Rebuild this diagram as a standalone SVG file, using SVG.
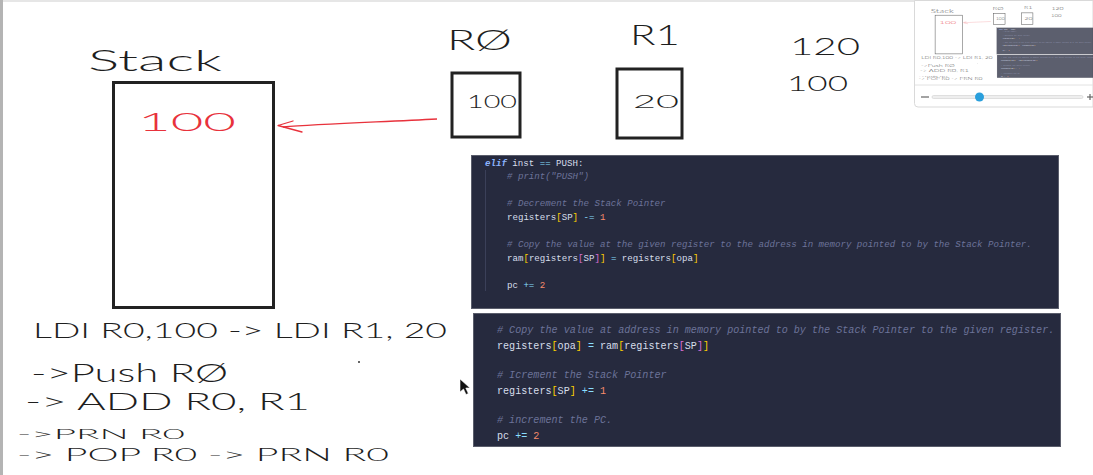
<svg xmlns="http://www.w3.org/2000/svg" xmlns:xlink="http://www.w3.org/1999/xlink" width="1093" height="475" viewBox="0 0 1093 475">
<style>
.hand{font-family:Lato,"Liberation Sans",sans-serif;font-weight:300;fill:#1e1e1e}
.red{fill:#e8323c}
.box{fill:#fff;stroke:#222;stroke-width:3}
.code{fill:#262a3e;stroke:#5a5d6b;stroke-width:1}
.c1{font-family:"Liberation Mono","DejaVu Sans Mono",monospace;font-size:9.12px;fill:#d6deeb}
.c2{font-family:"Liberation Mono","DejaVu Sans Mono",monospace;font-size:10.1px;fill:#d6deeb}
.cm{fill:#6c7399;font-style:italic}
.kw{fill:#8cb4ff;font-style:italic;font-weight:bold}
.op{fill:#89ddff}
.num{fill:#f78c6c}
.yb{fill:#ffd000}
.pb{fill:#da70d6}
</style>
<defs>
<clipPath id="mmclip"><rect x="915" y="1" width="178" height="83"/></clipPath>
</defs>
<rect x="0" y="0" width="1093" height="475" fill="#fff"/>
<line x1="0" y1="1" x2="1093" y2="1" stroke="#e6e6e6" stroke-width="2"/>
<rect x="0" y="0" width="3" height="475" fill="#b4b4b4"/>

<g id="board">
<g id="stack">
<text class="hand" x="88" y="71" font-size="30" textLength="134" lengthAdjust="spacingAndGlyphs">Stack</text>
<rect class="box" x="113.5" y="82.5" width="160" height="225"/>
<text class="hand red" x="138" y="131" font-size="25" textLength="98" lengthAdjust="spacingAndGlyphs">100</text>
</g>
<g id="r0">
<text class="hand" x="447" y="50" font-size="27" textLength="65" lengthAdjust="spacingAndGlyphs">RØ</text>
<rect class="box" x="452" y="73" width="68" height="64"/>
<text class="hand" x="467" y="108" font-size="18" textLength="50" lengthAdjust="spacingAndGlyphs">100</text>
</g>
<g id="r1">
<text class="hand" x="630" y="45" font-size="27" textLength="50" lengthAdjust="spacingAndGlyphs">R1</text>
<rect class="box" x="617" y="69" width="65" height="69"/>
<text class="hand" x="633" y="108" font-size="18" textLength="46" lengthAdjust="spacingAndGlyphs">20</text>
</g>
<g id="sums">
<text class="hand" x="790" y="55" font-size="23" textLength="70" lengthAdjust="spacingAndGlyphs">120</text>
<text class="hand" x="787" y="91" font-size="21" textLength="61" lengthAdjust="spacingAndGlyphs">100</text>
</g>
<g id="connectors">
<path d="M437 119 C 380 122, 320 124, 283 127" fill="none" stroke="#e8323c" stroke-width="1.3"/>
<path d="M293 121 L278 125.5 L302 132" fill="none" stroke="#e8323c" stroke-width="1.3" stroke-linecap="round" stroke-linejoin="round"/>
</g>
<g id="code-push">
<rect class="code" x="471.5" y="155.5" width="587" height="153"/>
<line x1="485.5" y1="170" x2="485.5" y2="291" stroke="#3b4059" stroke-width="1"/>
<text class="c1" x="485" y="166"><tspan class="kw">elif</tspan> inst <tspan class="op">==</tspan> PUSH:</text>
<text class="c1 cm" x="507" y="179"># print("PUSH")</text>
<text class="c1 cm" x="507" y="206"># Decrement the Stack Pointer</text>
<text class="c1" x="507" y="220">registers<tspan class="yb">[</tspan>SP<tspan class="yb">]</tspan> <tspan class="op">-=</tspan> <tspan class="num">1</tspan></text>
<text class="c1 cm" x="507" y="247"># Copy the value at the given register to the address in memory pointed to by the Stack Pointer.</text>
<text class="c1" x="507" y="261">ram<tspan class="yb">[</tspan>registers<tspan class="pb">[</tspan>SP<tspan class="pb">]</tspan><tspan class="yb">]</tspan> <tspan class="op">=</tspan> registers<tspan class="yb">[</tspan>opa<tspan class="yb">]</tspan></text>
<text class="c1" x="507" y="288">pc <tspan class="op">+=</tspan> <tspan class="num">2</tspan></text>
</g>
<g id="code-pop">
<rect class="code" x="473.5" y="313.5" width="587" height="133"/>
<text class="c2 cm" x="497" y="333"># Copy the value at address in memory pointed to by the Stack Pointer to the given register.</text>
<text class="c2" x="497" y="349">registers<tspan class="yb">[</tspan>opa<tspan class="yb">]</tspan> <tspan class="op">=</tspan> ram<tspan class="yb">[</tspan>registers<tspan class="pb">[</tspan>SP<tspan class="pb">]</tspan><tspan class="yb">]</tspan></text>
<text class="c2 cm" x="497" y="378"># Icrement the Stack Pointer</text>
<text class="c2" x="497" y="394">registers<tspan class="yb">[</tspan>SP<tspan class="yb">]</tspan> <tspan class="op">+=</tspan> <tspan class="num">1</tspan></text>
<text class="c2 cm" x="497" y="423"># increment the PC.</text>
<text class="c2" x="497" y="439">pc <tspan class="op">+=</tspan> <tspan class="num">2</tspan></text>
</g>
<g id="program">
<text class="hand" x="33" y="338" font-size="22" textLength="414" lengthAdjust="spacingAndGlyphs">LDI R0,100 -&gt; LDI R1, 20</text>
<circle cx="359" cy="362" r="1" fill="#333"/>
<text class="hand" x="31" y="382" font-size="26" textLength="197" lengthAdjust="spacingAndGlyphs">-&gt;Push RØ</text>
<text class="hand" x="25" y="410" font-size="23" textLength="285" lengthAdjust="spacingAndGlyphs">-&gt; ADD R0, R1</text>
<text class="hand" x="17" y="439" font-size="14" textLength="168" lengthAdjust="spacingAndGlyphs">-&gt;PRN R0</text>
<text class="hand" x="17" y="461" font-size="17" textLength="372" lengthAdjust="spacingAndGlyphs">-&gt; POP R0 -&gt; PRN R0</text>
</g>
</g>

<polygon points="460,379 460,392 463.5,389 466,394.5 468.3,393.5 465.8,388 470,388" fill="#111" stroke="#fff" stroke-width="0.6"/>

<g id="minimap">
<path d="M914.5 0.5 H1093 V107 H918 Q914.5 107 914.5 103.5 Z" fill="#fff" stroke="#d9d9d9"/>
<g clip-path="url(#mmclip)" opacity="0.75">
<use xlink:href="#board" href="#board" transform="translate(915.6 1) scale(0.172)"/>
</g>
<line x1="915" y1="85" x2="1093" y2="85" stroke="#e2e2e2"/>
<line x1="921" y1="97" x2="929" y2="97" stroke="#666" stroke-width="1.2"/>
<rect x="932" y="95.5" width="151" height="3" rx="1.5" fill="#eeeeee" stroke="#d0d0d0" stroke-width="0.6"/>
<circle cx="979.5" cy="97" r="4.5" fill="#2a9fdc"/>
<line x1="1087" y1="97" x2="1093" y2="97" stroke="#666" stroke-width="1.2"/>
<line x1="1090" y1="94" x2="1090" y2="100" stroke="#666" stroke-width="1.2"/>
</g>
</svg>
